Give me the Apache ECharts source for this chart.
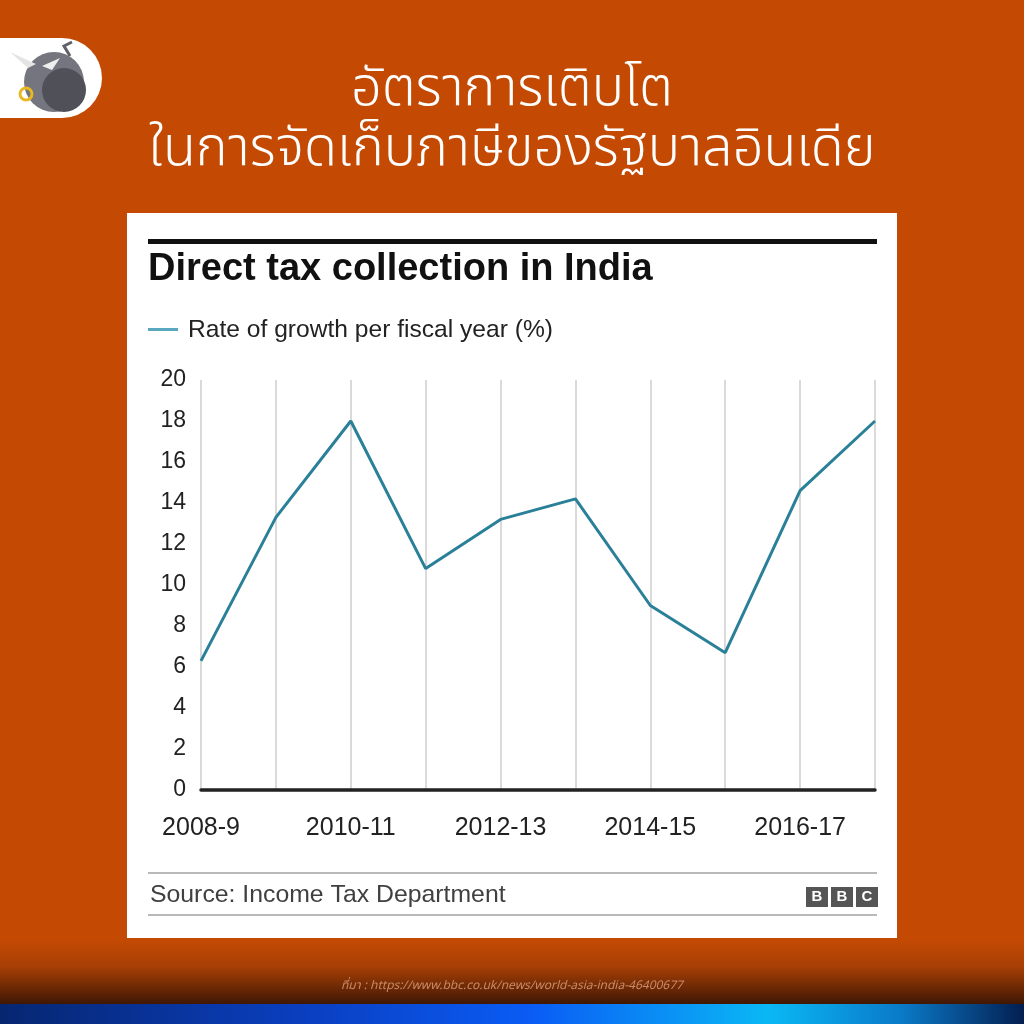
<!DOCTYPE html>
<html><head><meta charset="utf-8">
<script src="https://cdn.jsdelivr.net/npm/echarts@6/dist/echarts.min.js"></script>
<style>html,body{margin:0;padding:0;background:#C44A04}#c{width:1024px;height:1024px}</style>
</head><body><div id="c"></div>
<script>
const categories = ['2008-9','2009-10','2010-11','2011-12','2012-13','2013-14','2014-15','2015-16','2016-17','2017-18'];
const growthRate = [6.3, 13.3, 18.0, 10.8, 13.2, 14.2, 9.0, 6.7, 14.6, 18.0];
const yTicks = [0, 20, 2];
const titleThai = ['อัตราการเติบโต', 'ในการจัดเก็บภาษีของรัฐบาลอินเดีย'];
const chartTitle = 'Direct tax collection in India';
const legendText = 'Rate of growth per fiscal year (%)';
const sourceText = 'Source: Income Tax Department';
const urlText = 'ที่มา : https://www.bbc.co.uk/news/world-asia-india-46400677';

const chart = echarts.init(document.getElementById('c'));
const F = '"Liberation Sans", Arial, sans-serif';
const T = '"Noto Sans Thai", "Noto Sans", "Noto Sans CJK SC", sans-serif';
chart.setOption({
  backgroundColor: '#C44A04',
  animation: false,
  graphic: [
    {type:'rect', z:-10, shape:{x:0,y:940,width:1024,height:66}, style:{fill:new echarts.graphic.LinearGradient(0,0,0,1,[{offset:0,color:'#C44A04'},{offset:0.4,color:'#A83F05'},{offset:1,color:'#3A1504'}])}},
    {type:'rect', z:-10, shape:{x:0,y:1004,width:1024,height:20}, style:{fill:new echarts.graphic.LinearGradient(0,0,1,0,[{offset:0,color:'#062670'},{offset:0.3,color:'#0A3FC0'},{offset:0.52,color:'#0A5CF5'},{offset:0.75,color:'#0AB8F5'},{offset:0.88,color:'#0A7AC8'},{offset:1,color:'#041E50'}])}},
    // logo pill
    {type:'rect', shape:{x:-40,y:38,width:142,height:80,r:40}, style:{fill:'#ffffff'}},
    {type:'circle', shape:{cx:54,cy:82,r:30}, style:{fill:'#75757F'}},
    {type:'circle', shape:{cx:64,cy:90,r:22}, style:{fill:'#505058'}},
    {type:'polygon', shape:{points:[[28,68],[10,52],[36,64]]}, style:{fill:'#e4e4e4'}},
    {type:'polygon', shape:{points:[[42,66],[60,58],[52,70]]}, style:{fill:'#eeeeee'}},
    {type:'circle', shape:{cx:26,cy:94,r:6}, style:{fill:'none',stroke:'#E8B820',lineWidth:3}},
    {type:'polyline', shape:{points:[[70,56],[64,46],[72,42]]}, style:{fill:'none',stroke:'#606068',lineWidth:3}},
    // thai title
    {type:'text', x:512, y:94, style:{text:titleThai[0], fill:'#ffffff', font:'300 54px '+T, align:'center', verticalAlign:'middle'}},
    {type:'text', x:512, y:154, style:{text:titleThai[1], fill:'#ffffff', font:'300 54px '+T, align:'center', verticalAlign:'middle'}},
    // card
    {type:'rect', z:-5, shape:{x:127,y:213,width:770,height:725}, style:{fill:'#ffffff'}},
    {type:'rect', shape:{x:148,y:239,width:729,height:5}, style:{fill:'#111111'}},
    {type:'text', x:148, y:270, style:{text:chartTitle, fill:'#111', font:'bold 38px '+F, verticalAlign:'middle'}},
    {type:'rect', shape:{x:148,y:328,width:30,height:3}, style:{fill:'#5AA8C0'}},
    {type:'text', x:188, y:330, style:{text:legendText, fill:'#222', font:'24.6px '+F, verticalAlign:'middle'}},
    {type:'rect', shape:{x:148,y:872,width:729,height:2}, style:{fill:'#B8B8B8'}},
    {type:'rect', shape:{x:148,y:914,width:729,height:2}, style:{fill:'#B8B8B8'}},
    {type:'text', x:150, y:895, style:{text:sourceText, fill:'#404040', font:'24.8px '+F, verticalAlign:'middle'}},
    {type:'rect', shape:{x:806,y:887,width:22,height:20}, style:{fill:'#555555'}},
    {type:'rect', shape:{x:831,y:887,width:22,height:20}, style:{fill:'#555555'}},
    {type:'rect', shape:{x:856,y:887,width:22,height:20}, style:{fill:'#555555'}},
    {type:'text', x:817, y:897, style:{text:'B', fill:'#fff', font:'bold 15px '+F, align:'center', verticalAlign:'middle'}},
    {type:'text', x:842, y:897, style:{text:'B', fill:'#fff', font:'bold 15px '+F, align:'center', verticalAlign:'middle'}},
    {type:'text', x:867, y:897, style:{text:'C', fill:'#fff', font:'bold 15px '+F, align:'center', verticalAlign:'middle'}},
    {type:'text', x:512, y:987, style:{text:urlText, fill:'#C98A6A', font:'italic 12px '+T, align:'center', verticalAlign:'middle'}}
  ],
  grid: {left:201, right:149, top:380, bottom:234},
  xAxis: {
    type:'category', data:categories, boundaryGap:false,
    axisLine:{show:true, lineStyle:{color:'#222', width:3.5}},
    axisTick:{show:false},
    splitLine:{show:true, interval:0, lineStyle:{color:'#DADADA', width:2}},
    axisLabel:{interval:1, color:'#222', fontSize:25, fontFamily:F, margin:26}
  },
  yAxis: {
    type:'value', min:yTicks[0], max:yTicks[1], interval:yTicks[2],
    axisLine:{show:false}, axisTick:{show:false}, splitLine:{show:false},
    axisLabel:{color:'#222', fontSize:23, fontFamily:F, margin:15}
  },
  series: [{
    type:'line', name:legendText, data:growthRate, showSymbol:false,
    lineStyle:{color:'#2A8098', width:3}, z:5
  }]
});
</script></body></html>
